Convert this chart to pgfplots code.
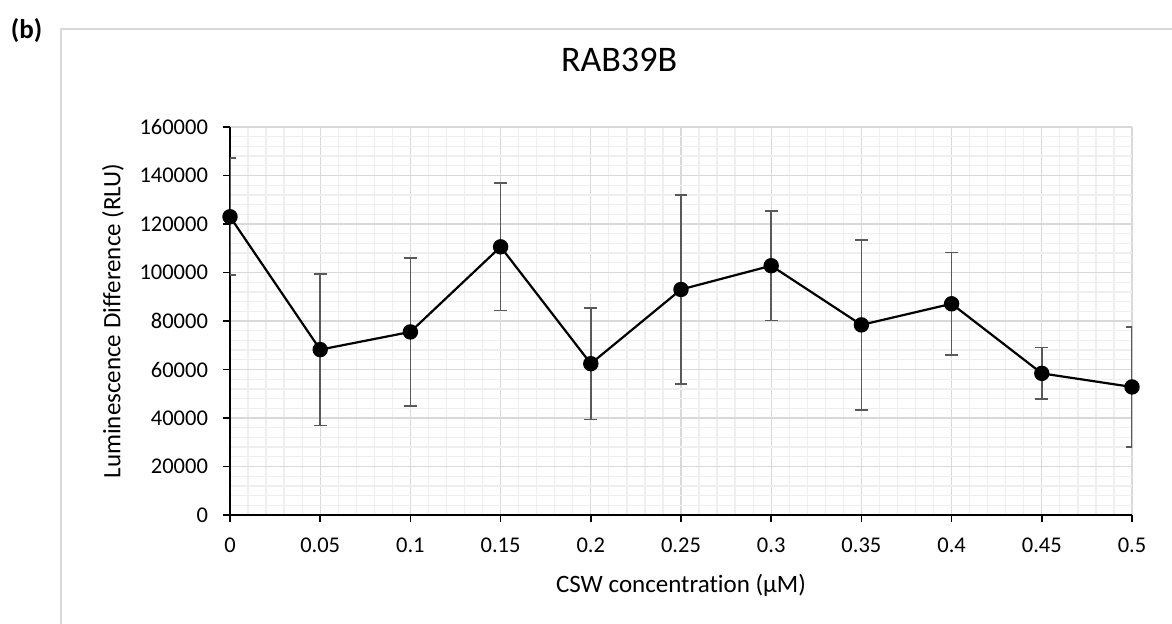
\documentclass[border=0pt]{standalone}
\usepackage{fontspec}
\setmainfont{Carlito}[Ligatures=NoCommon]
\usepackage{pgfplots}
\pgfplotsset{compat=1.18}
\definecolor{majgrid}{HTML}{D9D9D9}
\definecolor{mingrid}{HTML}{EFEFEF}
\definecolor{errc}{HTML}{595959}
\definecolor{framec}{HTML}{D9D9D9}
\begin{document}
\begin{tikzpicture}[x=1pt,y=1pt]
\path[use as bounding box] (0,0) rectangle (586,311.5);
\draw[framec, line width=0.9pt] (30.5,-1) -- (30.5,297) -- (587,297);
\node[font=\fontsize{13.5}{16}\selectfont\bfseries] at (13.25,296) {(b)};
\begin{axis}[
  at={(115pt,54pt)}, anchor=south west, scale only axis,
  width=451pt, height=194pt,
  xmin=0, xmax=0.5, ymin=0, ymax=160000,
  xtick={0,0.05,0.1,0.15,0.2,0.25,0.3,0.35,0.4,0.45,0.5},
  xticklabels={0,0.05,0.1,0.15,0.2,0.25,0.3,0.35,0.4,0.45,0.5},
  ytick={0,20000,40000,60000,80000,100000,120000,140000,160000},
  yticklabels={0,20000,40000,60000,80000,100000,120000,140000,160000},
  scaled y ticks=false,
  minor x tick num=4, minor y tick num=4,
  grid=both,
  major grid style={majgrid, line width=0.65pt},
  minor grid style={mingrid, line width=0.65pt},
  minor tick length=0pt,
  major tick length=3.5pt,
  tick align=outside,
  axis x line*=bottom, axis y line*=left,
  axis line style={black, line width=0.8pt, -},
  tick style={black, line width=0.8pt},
  tick label style={font=\fontsize{11.25}{13.5}\selectfont},
  yticklabel style={xshift=-4pt},
  xticklabel style={yshift=-4.5pt},
  xlabel={CSW concentration (μM)},
  ylabel={Luminescence Difference (RLU)},
  label style={font=\fontsize{12.5}{15}\selectfont},
  xlabel style={at={(axis description cs:0.5,-0.1804)}, anchor=center},
  ylabel style={at={(axis description cs:-0.1297,0.5)}, anchor=center, rotate=0},
  title={RAB39B},
  title style={at={(axis description cs:0.4313,1.1418)}, anchor=center, font=\fontsize{18}{21}\selectfont},
  clip marker paths=false,
]
\addplot[black, line width=1.1pt, mark=*, mark size=3.3pt, mark options={fill=black},
  error bars/.cd, y dir=both, y explicit,
  error bar style={errc, line width=0.8pt},
  error mark options={errc, rotate=90, mark size=3.2pt, line width=0.8pt}]
coordinates {
 (0,123000) +- (0,24100)
 (0.05,68200) +- (0,31300)
 (0.1,75500) +- (0,30500)
 (0.15,110600) +- (0,26200)
 (0.2,62400) +- (0,23000)
 (0.25,93000) +- (0,39000)
 (0.3,102800) +- (0,22600)
 (0.35,78400) +- (0,35000)
 (0.4,87100) +- (0,21200)
 (0.45,58400) +- (0,10600)
 (0.5,52800) +- (0,24800)
};
\end{axis}
\end{tikzpicture}
\end{document}
